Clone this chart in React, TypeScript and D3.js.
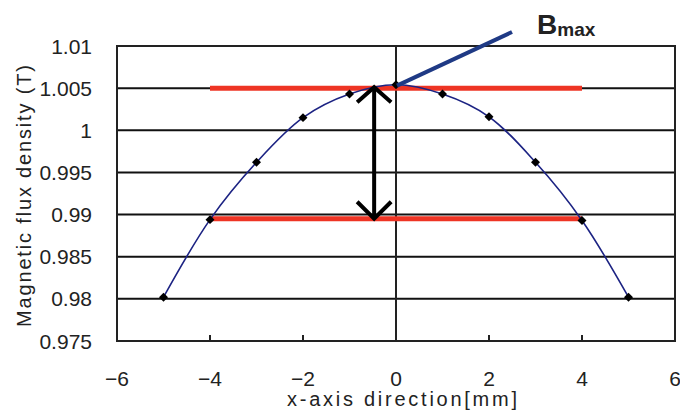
import React from 'react';
import * as d3 from 'd3';

// measured values (x in mm, B in T)
const xPositions = [-5, -4, -3, -2, -1, 0, 1, 2, 3, 4, 5];
const fluxValues = [0.9802, 0.9894, 0.9962, 1.0015, 1.0043, 1.0054, 1.0043, 1.0016, 0.9962, 0.9893, 0.9802];

const xTicks = [-6, -4, -2, 0, 2, 4, 6];
const yTicks = [0.975, 0.98, 0.985, 0.99, 0.995, 1, 1.005, 1.01];
const yTickLabels = ['0.975', '0.98', '0.985', '0.99', '0.995', '1', '1.005', '1.01'];

// annotation levels
const upperLevel = 1.005;
const lowerLevel = 0.9895;
const levelSpan = [-4, 4];
const arrowX = -0.47;
const bmaxPoint = { x: 0, y: 1.0053 };

const W = 680;
const H = 413;
const margin = { top: 46, right: 5, bottom: 72, left: 117 };

const FONT = '"Liberation Sans", Arial, sans-serif';

const App = () => {
  const x = d3.scaleLinear().domain([-6, 6]).range([margin.left, W - margin.right]);
  const y = d3.scaleLinear().domain([0.975, 1.01]).range([H - margin.bottom, margin.top]);

  const pts = xPositions.map((v, i) => [v, fluxValues[i]] as [number, number]);
  const line = d3.line<[number, number]>()
    .x(d => x(d[0]))
    .y(d => y(d[1]))
    .curve(d3.curveCatmullRom.alpha(0.5));

  // rotated square marker, like Excel's diamond
  const marker = d3.symbol().type(d3.symbolSquare).size(40)();

  const x0 = x.range()[0];
  const x1 = x.range()[1];
  const y0 = y.range()[0];
  const y1 = y.range()[1];

  const ax = x(arrowX);
  const aTop = y(upperLevel) - 1;
  const aBot = y(lowerLevel);

  return (
    <div style={{ position: 'absolute', left: 0, top: 0 }}>
      <svg width={W} height={H} style={{ display: 'block', background: '#fff' }}>
        {/* grid */}
        {yTicks.slice(1, -1).map(t => (
          <line key={t} x1={x0} x2={x1} y1={y(t)} y2={y(t)} stroke="#111" strokeWidth={2} />
        ))}
        <line x1={x(0)} x2={x(0)} y1={y1} y2={y0} stroke="#222" strokeWidth={2} />
        <rect x={x0} y={y1} width={x1 - x0} height={y0 - y1} fill="none" stroke="#222" strokeWidth={2} />
        {xTicks.slice(1, -1).map(t => (
          <line key={t} x1={x(t)} x2={x(t)} y1={y0} y2={y0 - 6} stroke="#222" strokeWidth={2} />
        ))}

        {/* red level lines */}
        {[upperLevel, lowerLevel].map(l => (
          <line key={l} x1={x(levelSpan[0])} x2={x(levelSpan[1])} y1={y(l)} y2={y(l)}
            stroke="#ee3424" strokeWidth={5} />
        ))}

        {/* curve */}
        <path d={line(pts) || ''} fill="none" stroke="#1c2383" strokeWidth={1.6} />
        {pts.map(d => (
          <path key={d[0]} d={marker || ''} transform={`translate(${x(d[0])},${y(d[1])}) rotate(45)`} fill="#000" />
        ))}

        {/* double arrow */}
        <g stroke="#000" strokeWidth={4} fill="none" strokeLinecap="butt">
          <line x1={ax} x2={ax} y1={aTop + 2} y2={aBot - 2} />
          <polyline points={`${ax - 17},${aTop + 15} ${ax},${aTop} ${ax + 17},${aTop + 15}`} />
          <polyline points={`${ax - 17},${aBot - 17} ${ax},${aBot} ${ax + 17},${aBot - 17}`} />
        </g>

        {/* Bmax pointer */}
        <line x1={x(bmaxPoint.x) + 1} y1={y(bmaxPoint.y)} x2={512} y2={32} stroke="#1f3a85" strokeWidth={4} />
        <text x={537} y={34} fontFamily={FONT} fontWeight="bold" fill="#222">
          <tspan fontSize={28}>B</tspan>
          <tspan fontSize={19} dy={2}>max</tspan>
        </text>

        {/* y tick labels */}
        {yTicks.map((t, i) => (
          <text key={t} x={92} y={y(t)} dy="0.36em" textAnchor="end" fontFamily={FONT} fontSize={21} fill="#222">
            {yTickLabels[i]}
          </text>
        ))}
        {/* x tick labels */}
        {xTicks.map(t => (
          <text key={t} x={x(t)} y={386} textAnchor="middle" fontFamily={FONT} fontSize={21} fill="#222">
            {t < 0 ? `\u2212${Math.abs(t)}` : t}
          </text>
        ))}

        {/* axis titles */}
        <text x={402} y={406} textAnchor="middle" fontFamily={FONT} fontSize={20} fill="#222"
          textLength={230} lengthAdjust="spacing">
          x-axis direction[mm]
        </text>
        <text transform="translate(31,196) rotate(-90)" textAnchor="middle" fontFamily={FONT} fontSize={20} fill="#222"
          textLength={262} lengthAdjust="spacing">
          Magnetic flux density (T)
        </text>
      </svg>
    </div>
  );
};

export default App;
